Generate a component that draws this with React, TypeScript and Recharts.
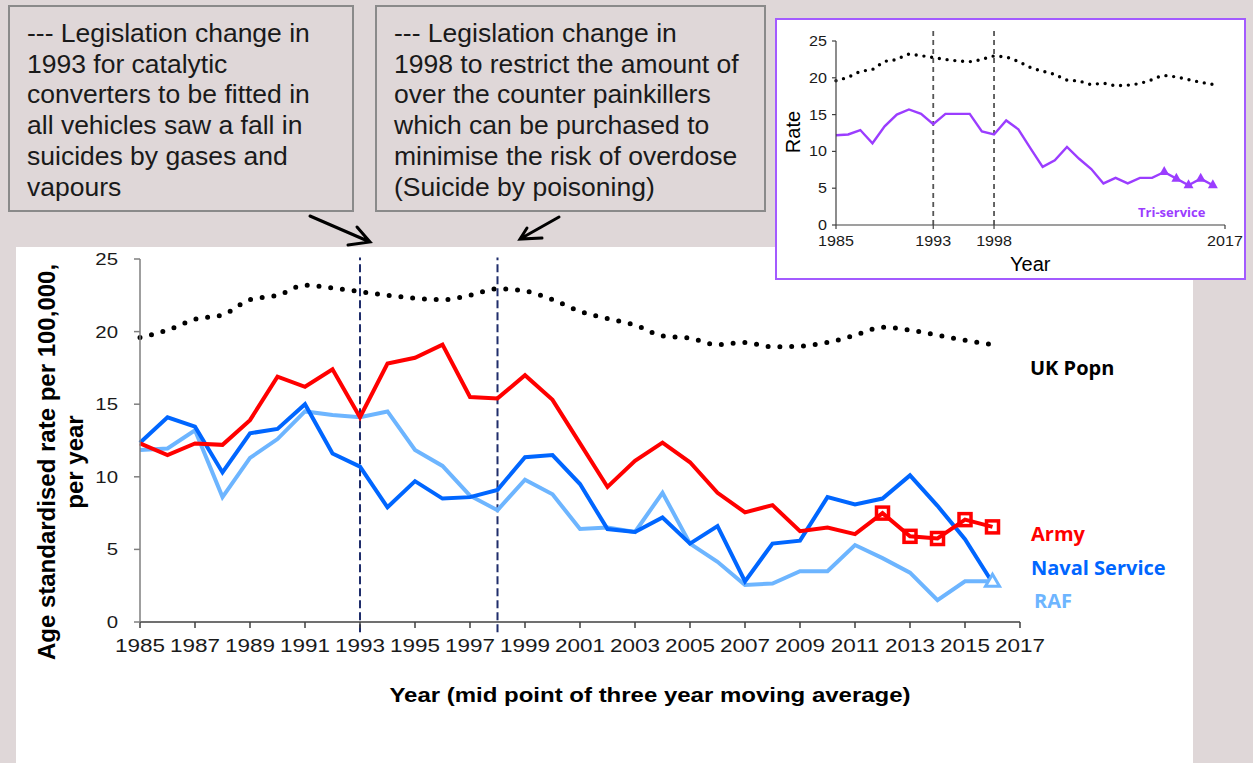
import { LineChart, Line, XAxis, YAxis, ReferenceLine } from "recharts";

// mid point of three year moving average
const YEARS = [
  1985, 1986, 1987, 1988, 1989, 1990, 1991, 1992, 1993, 1994, 1995, 1996, 1997, 1998, 1999, 2000,
  2001, 2002, 2003, 2004, 2005, 2006, 2007, 2008, 2009, 2010, 2011, 2012, 2013, 2014, 2015, 2016,
];
const ARMY = [
  12.3, 11.5, 12.3, 12.2, 13.9, 16.9, 16.2, 17.4, 14.1, 17.8, 18.2, 19.1, 15.5, 15.4, 17.0, 15.3,
  12.3, 9.3, 11.1, 12.35, 11.0, 8.9, 7.55, 8.05, 6.25, 6.5, 6.05, 7.5, 5.9, 5.75, 7.05, 6.55,
];
const NAVAL = [
  12.35, 14.1, 13.45, 10.3, 13.0, 13.3, 15.0, 11.6, 10.7, 7.9, 9.7, 8.5, 8.6, 9.1, 11.35, 11.5,
  9.5, 6.4, 6.2, 7.2, 5.4, 6.6, 2.8, 5.4, 5.6, 8.6, 8.1, 8.5, 10.1, 8.0, 5.7, 2.7,
];
const RAF = [
  11.85, 11.95, 13.2, 8.6, 11.3, 12.6, 14.5, 14.25, 14.1, 14.5, 11.85, 10.75, 8.7, 7.7, 9.8, 8.8,
  6.4, 6.5, 6.2, 8.9, 5.4, 4.15, 2.55, 2.65, 3.5, 3.5, 5.3, 4.4, 3.4, 1.5, 2.8, 2.8,
];
const UK_POPN = [
  19.6, 20.1, 20.85, 21.15, 22.2, 22.5, 23.2, 23.0, 22.75, 22.5, 22.3, 22.2, 22.5, 22.95, 22.8, 22.2,
  21.4, 20.9, 20.45, 19.7, 19.55, 19.1, 19.25, 18.95, 19.0, 19.25, 19.75, 20.3, 20.1, 19.75, 19.4, 19.1,
];
const TRI_SERVICE = [
  12.2, 12.3, 12.9, 11.1, 13.4, 15.0, 15.7, 15.1, 13.7, 15.1, 15.1, 15.1, 12.7, 12.3, 14.2, 13.0,
  10.4, 7.9, 8.8, 10.6, 9.0, 7.6, 5.65, 6.4, 5.65, 6.4, 6.4, 7.2, 6.3, 5.4, 6.3, 5.4,
];

const X_TICKS = [1985, 1987, 1989, 1991, 1993, 1995, 1997, 1999, 2001, 2003, 2005, 2007, 2009, 2011, 2013, 2015, 2017];
const INSET_X_TICKS = [1985, 1993, 1998, 2017];
const Y_TICKS = [0, 5, 10, 15, 20, 25];
const LEGISLATION_YEARS = [1993, 1998];

const data = YEARS.map((year, i) => ({
  year,
  army: ARMY[i],
  naval: NAVAL[i],
  raf: RAF[i],
  uk: UK_POPN[i],
  tri: TRI_SERVICE[i],
}));

const BG = "#dfd7d8";
const RED = "#ff0000";
const NAVY = "#0066ff";
const LIGHT = "#6db5ff";
const PURPLE = "#9b3dff";
const FONT = "'Liberation Sans', Arial, sans-serif";
const LABEL_FONT = "'Open Sans', 'Noto Sans', sans-serif";

const BOX_1 = [
  "--- Legislation change in",
  "1993 for catalytic",
  "converters to be fitted in",
  "all vehicles saw a fall in",
  "suicides by gases and",
  "vapours",
];
const BOX_2 = [
  "--- Legislation change in",
  "1998 to restrict the amount of",
  "over the counter painkillers",
  "which can be purchased to",
  "minimise the risk of overdose",
  "(Suicide by poisoning)",
];

// the source picture is a little stretched sideways, so tick text is widened
const WideTick = (props: any) => {
  const { x, y, payload, textAnchor, fs, sx, dy } = props;
  return (
    <text transform={`translate(${x},${y}) scale(${sx},1)`} textAnchor={textAnchor} fontSize={fs} fill="#1a1a1a" dy={dy}>
      {payload.value}
    </text>
  );
};

// hollow squares on the last army points
const ArmyDot = (props: any) => {
  const { cx, cy, payload, index } = props;
  if (payload.year < 2012) return <g key={index} />;
  return <rect key={index} x={cx - 6} y={cy - 6} width={12} height={12} fill="none" stroke={RED} strokeWidth={3.5} />;
};

const RafDot = (props: any) => {
  const { cx, cy, payload, index } = props;
  if (payload.year < 2016) return <g key={index} />;
  return (
    <path key={index} d={`M${cx},${cy - 7} L${cx + 7},${cy + 5} L${cx - 7},${cy + 5} Z`}
      fill="#fff" stroke={LIGHT} strokeWidth={3} />
  );
};

const TriDot = (props: any) => {
  const { cx, cy, payload, index } = props;
  if (payload.year < 2012) return <g key={index} />;
  return <path key={index} d={`M${cx},${cy - 6} L${cx + 5},${cy + 3} L${cx - 5},${cy + 3} Z`} fill={PURPLE} />;
};

function NoteBox({ left, width, lines }: { left: number; width: number; lines: string[] }) {
  return (
    <div style={{
      position: "absolute", left, top: 5, width, height: 207, boxSizing: "border-box",
      border: "2px solid #8a8a8a", padding: "11px 0 0 17px", fontSize: 26.5, lineHeight: "30.7px", color: "#1a1a1a",
      whiteSpace: "nowrap",
    }}>
      {lines.map((l) => <div key={l}>{l}</div>)}
    </div>
  );
}

export default function App() {
  return (
    <div style={{ position: "relative", width: 1253, height: 763, background: BG, overflow: "hidden", fontFamily: FONT }}>
      <style>{`body{margin:0}`}</style>

      <NoteBox left={8} width={346} lines={BOX_1} />
      <NoteBox left={375} width={391} lines={BOX_2} />

      {/* main panel */}
      <div style={{ position: "absolute", left: 16, top: 247, width: 1177, height: 516, background: "#fff" }}>
        <LineChart width={1177} height={516} data={data} margin={{ top: 12, right: 173, left: 64, bottom: 101 }}>
          <XAxis dataKey="year" type="number" domain={[1985, 2017]} ticks={X_TICKS} interval={0}
            height={40} tickSize={6} tickMargin={11} stroke="#404040" strokeWidth={1.5}
            tick={(p: any) => <WideTick {...p} fs={18} sx={1.25} dy="0.71em" />} />
          <YAxis domain={[0, 25]} ticks={Y_TICKS} width={60} tickSize={6} tickMargin={16}
            stroke="#7f7f7f" strokeWidth={1.5}
            tick={(p: any) => <WideTick {...p} fs={17} sx={1.2} dy="0.355em" />} />
          {LEGISLATION_YEARS.map((y) => (
            <ReferenceLine key={y} segment={[{ x: y, y: -0.7 }, { x: y, y: 25.1 }]} ifOverflow="visible"
              stroke="#1f2d6b" strokeWidth={2} strokeDasharray="8 4" />
          ))}
          <Line dataKey="uk" type="monotone" stroke="#000" strokeWidth={5} strokeDasharray="0 11.8"
            strokeLinecap="round" dot={false} activeDot={false} isAnimationActive={false} />
          <Line dataKey="raf" stroke={LIGHT} strokeWidth={4} dot={RafDot} activeDot={false} isAnimationActive={false} />
          <Line dataKey="naval" stroke={NAVY} strokeWidth={4} dot={false} activeDot={false} isAnimationActive={false} />
          <Line dataKey="army" stroke={RED} strokeWidth={4} dot={ArmyDot} activeDot={false} isAnimationActive={false} />
        </LineChart>
      </div>

      {/* y axis title */}
      <div style={{
        position: "absolute", left: 61 - 240, top: 462 - 28, width: 480, height: 56,
        transform: "rotate(-90deg)", textAlign: "center", fontWeight: 700, fontSize: 24, lineHeight: "28px", color: "#000",
        whiteSpace: "nowrap",
      }}>
        Age standardised rate per 100,000,<br />per year
      </div>
      {/* x axis title */}
      <div style={{
        position: "absolute", left: 300, width: 700, top: 684, textAlign: "center", fontWeight: 700, fontSize: 19.5,
        color: "#000", transform: "scaleX(1.23)", whiteSpace: "nowrap",
      }}>
        Year (mid point of three year moving average)
      </div>

      {/* series labels */}
      <div style={{ position: "absolute", left: 1030, top: 354, fontFamily: LABEL_FONT, fontWeight: 700, fontSize: 20, color: "#000" }}>UK Popn</div>
      <div style={{ position: "absolute", left: 1031, top: 520, fontFamily: LABEL_FONT, fontWeight: 700, fontSize: 20, color: RED }}>Army</div>
      <div style={{ position: "absolute", left: 1031, top: 554, fontFamily: LABEL_FONT, fontWeight: 700, fontSize: 20, color: NAVY }}>Naval Service</div>
      <div style={{ position: "absolute", left: 1034, top: 587, fontFamily: LABEL_FONT, fontWeight: 700, fontSize: 20, color: LIGHT }}>RAF</div>

      {/* arrows */}
      <svg width={1253} height={763} style={{ position: "absolute", left: 0, top: 0, pointerEvents: "none" }}>
        <g stroke="#000" strokeWidth={3} fill="none" strokeLinecap="round">
          <path d="M310,216 L370,242 M357,227 L370,242 L348,245" />
          <path d="M559,217 L520,239 M527,228 L520,239 L542,238" />
        </g>
      </svg>

      {/* tri-service inset */}
      <div style={{
        position: "absolute", left: 775, top: 18, width: 471, height: 262, boxSizing: "border-box",
        border: "2px solid #a35bff", background: "#fff", zIndex: 2,
      }}>
        <LineChart width={467} height={258} data={data} margin={{ top: 21, right: 19, left: 19, bottom: 23 }}>
          <XAxis dataKey="year" type="number" domain={[1985, 2017]} ticks={INSET_X_TICKS} interval={0}
            height={30} tickSize={4} tickMargin={7} stroke="#404040" strokeWidth={1.2}
            tick={(p: any) => <WideTick {...p} fs={14} sx={1.15} dy="0.71em" />} />
          <YAxis domain={[0, 25]} ticks={Y_TICKS} width={40} tickSize={4} tickMargin={5}
            stroke="#404040" strokeWidth={1.2}
            tick={(p: any) => <WideTick {...p} fs={14} sx={1.15} dy="0.355em" />} />
          {LEGISLATION_YEARS.map((y) => (
            <ReferenceLine key={y} segment={[{ x: y, y: 0 }, { x: y, y: 26.4 }]} ifOverflow="visible"
              stroke="#555" strokeWidth={1.8} strokeDasharray="5 4" />
          ))}
          <Line dataKey="uk" type="monotone" stroke="#000" strokeWidth={3.4} strokeDasharray="0 7.8"
            strokeLinecap="round" dot={false} activeDot={false} isAnimationActive={false} />
          <Line dataKey="tri" stroke={PURPLE} strokeWidth={2.4} dot={TriDot} activeDot={false} isAnimationActive={false} />
        </LineChart>
        <div style={{
          position: "absolute", left: 16 - 30, top: 112 - 12, width: 60, height: 24, transform: "rotate(-90deg)",
          textAlign: "center", fontSize: 20, lineHeight: "24px", color: "#000",
        }}>Rate</div>
        <div style={{ position: "absolute", left: 233, top: 233, fontSize: 20, color: "#000" }}>Year</div>
        <div style={{ position: "absolute", left: 361, top: 183, fontFamily: LABEL_FONT, fontWeight: 700, fontSize: 13, color: PURPLE }}>Tri-service</div>
      </div>
    </div>
  );
}
